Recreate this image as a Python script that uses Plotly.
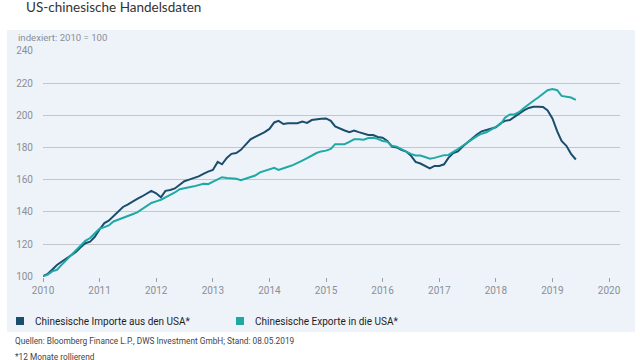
import plotly.graph_objects as go
import pandas as pd

# Monthly data, Jan 2010 .. Jun 2019 (indexed: 2010 = 100)
months = pd.date_range("2010-01-01", periods=114, freq="MS")
importe = [
    100, 101.5, 104, 107, 109, 111, 113, 115, 118, 120.5, 121.5, 124.5,
    129, 133, 134.5, 137.5, 140.5, 143, 144.5, 146, 148, 149.5, 151.5, 153,
    151.5, 149, 153, 153.5, 154.5, 157, 159, 160, 161, 162, 163.5, 165,
    166, 171, 169.5, 173.5, 176, 176.5, 178.5, 182, 185, 186.5, 188, 189.5,
    191.5, 195.5, 196.5, 194.5, 195, 195, 195, 196, 195.2, 197, 197.5, 197.8,
    198, 196.5, 193, 191.5, 190.5, 189.5, 190.5, 189.5, 188.5, 187.7, 187.7, 186.5,
    186, 184, 180.5, 180, 178.5, 177.4, 175, 171, 170, 168.5, 167, 168.5,
    168.5, 169.5, 173.5, 176.5, 177.5, 180.5, 183, 185, 188, 190, 190.8, 191.5,
    192.5, 195, 196.5, 197, 199, 201.5, 203, 204.5, 205.2, 205.3, 205.1, 203,
    198, 190, 184, 181, 176, 172.5,
]
exporte = [
    100, 101, 103, 104, 107, 110, 113, 116.5, 119.5, 122, 123.7, 126.5,
    129.5, 130.5, 131.5, 134, 135, 136.2, 137, 138.5, 139.6, 141.5, 143.5, 145.5,
    146.5, 147.5, 149, 150.5, 152, 154, 154.8, 155.3, 155.8, 156.5, 157.4, 157.2,
    158.8, 160.5, 161.5, 161, 160.9, 160.5, 159.6, 160.5, 161.5, 162.5, 164.5, 165.5,
    166.5, 167.3, 166, 167.2, 168, 169, 170.2, 171.8, 173.3, 175, 176.5, 177.5,
    178, 179, 182, 182, 182, 183.5, 185, 185, 184.8, 185.8, 186, 185.3,
    184, 183.5, 181, 180.5, 179, 177, 176, 175, 175, 174, 173, 173.5,
    174.5, 175.2, 175.3, 177, 179, 181, 183, 185, 187, 188.5, 189.4, 191,
    192.5, 194.5, 198.5, 200.5, 200.5, 202, 204.5, 206.5, 209, 211, 213, 215.5,
    216.2, 215.5, 212, 211.5, 211, 209.5,
]
series_names = ["Chinesische Importe aus den USA*", "Chinesische Exporte in die USA*"]
colors = ["#1b4d6c", "#1ea9a5"]
y_ticks = [100, 120, 140, 160, 180, 200, 220, 240]
x_ticks = list(range(2010, 2021))

fig = go.Figure()
for name, vals, col in zip(series_names, [importe, exporte], colors):
    fig.add_trace(go.Scatter(x=months, y=vals, mode="lines", name=name,
                             line=dict(color=col, width=2), showlegend=False))

L, R, T, B = 43, 20, 50, 83
W, H = 640, 360
pw, ph = W - L - R, H - T - B
def px(x):
    return (x - L) / pw
def py(y):
    return (H - B - y) / ph

shapes = [dict(type="rect", xref="paper", yref="paper", x0=px(7), x1=px(635),
               y0=py(332), y1=py(30), fillcolor="#eef3f9", line=dict(width=0), layer="below")]
annotations = [
    dict(text="US-chinesische Handelsdaten", xref="paper", yref="paper", x=px(24), y=py(7),
         xanchor="left", yanchor="middle", showarrow=False,
         font=dict(family="Lato, Open Sans, sans-serif", size=13.5, color="#333333")),
    dict(text="indexiert: 2010 = 100", xref="paper", yref="paper", x=px(16), y=py(37),
         xanchor="left", yanchor="middle", showarrow=False,
         font=dict(family="Roboto, sans-serif", size=9.6, color="#8a8f96")),
    dict(text="Quellen: Bloomberg Finance L.P., DWS Investment GmbH; Stand: 08.05.2019",
         xref="paper", yref="paper", x=px(13), y=py(341), xanchor="left", yanchor="middle",
         showarrow=False, font=dict(family="Roboto, sans-serif", size=8.3, color="#444444")),
    dict(text="*12 Monate rollierend",
         xref="paper", yref="paper", x=px(13), y=py(357), xanchor="left", yanchor="middle",
         showarrow=False, font=dict(family="Roboto, sans-serif", size=8.3, color="#444444")),
]
legend_pos = [16, 236]
for name, col, lx in zip(series_names, colors, legend_pos):
    shapes.append(dict(type="rect", xref="paper", yref="paper", x0=px(lx), x1=px(lx + 8),
                       y0=py(325), y1=py(317), fillcolor=col, line=dict(width=0)))
    annotations.append(dict(text=name, xref="paper", yref="paper", x=px(lx + 17), y=py(321),
                            xanchor="left", yanchor="middle", showarrow=False,
                            font=dict(family="Roboto, sans-serif", size=10, color="#1e1e1e")))

fig.update_layout(
    width=W, height=H, margin=dict(l=L, r=R, t=T, b=B, autoexpand=False),
    paper_bgcolor="white", plot_bgcolor="rgba(0,0,0,0)",
    shapes=shapes, annotations=annotations,
    xaxis=dict(range=["2010-01-01", "2020-03-12"], tickvals=[f"{y}-01-01" for y in x_ticks],
               ticktext=[str(y) for y in x_ticks], showgrid=False, zeroline=False,
               showline=False, ticks="outside", ticklen=4, tickcolor="#9aa0a6",
               automargin=False,
               tickfont=dict(family="Roboto, sans-serif", size=10, color="#8a8f96")),
    yaxis=dict(range=[99.5, 240.5], tickvals=y_ticks, showgrid=True, gridcolor="#c4c6c9",
               gridwidth=1, zeroline=False, showline=False, ticks="",
               ticklabelstandoff=9, automargin=False,
               tickfont=dict(family="Roboto, sans-serif", size=10, color="#8a8f96")),
)
fig.write_html("out.html", config={"displayModeBar": False},
               post_script="document.body.style.margin='0';document.body.style.overflow='hidden';")
